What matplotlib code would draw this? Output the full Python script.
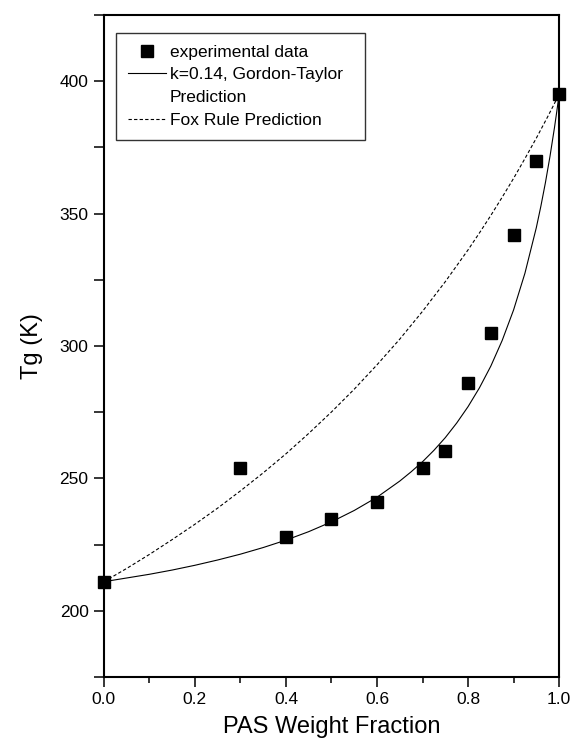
import numpy as np
import matplotlib
matplotlib.use('Agg')
import matplotlib.pyplot as plt
from matplotlib.lines import Line2D
from matplotlib.ticker import MultipleLocator, FormatStrFormatter

plt.rcParams['font.family'] = ['Liberation Sans', 'DejaVu Sans']

# measured Tg of the blends
w_exp = [0.0, 0.3, 0.4, 0.5, 0.6, 0.7, 0.75, 0.8, 0.85, 0.9, 0.95, 1.0]
tg_exp = [211, 254, 228, 234.5, 241, 254, 260.5, 286, 305, 342, 370, 395]

# Gordon-Taylor curve (k=0.14)
w_gt = [0.0, 0.05, 0.1, 0.15, 0.2, 0.25, 0.3, 0.35, 0.4, 0.45, 0.5, 0.55,
        0.6, 0.65, 0.675, 0.7, 0.725, 0.75, 0.775, 0.8, 0.825, 0.85, 0.875,
        0.9, 0.925, 0.95, 0.96, 0.97, 0.98, 0.99, 0.995, 1.0]
tg_gt = [211.0, 212.4, 213.8, 215.4, 217.2, 219.2, 221.4, 223.9, 226.7, 229.9,
         233.6, 237.9, 242.9, 249.0, 252.5, 256.3, 260.6, 265.4, 270.9, 277.1,
         284.2, 292.4, 302.1, 313.6, 327.5, 344.7, 352.8, 361.7, 371.6, 382.6,
         388.6, 395.0]

# Fox rule curve
w_fox = [0.0, 0.05, 0.1, 0.15, 0.2, 0.25, 0.3, 0.35, 0.4, 0.45, 0.5, 0.55,
         0.6, 0.65, 0.7, 0.75, 0.8, 0.825, 0.85, 0.875, 0.9, 0.925, 0.95,
         0.975, 1.0]
tg_fox = [211.0, 216.0, 221.3, 226.9, 232.7, 238.8, 245.3, 252.1, 259.3, 267.0,
          275.1, 283.7, 292.9, 302.6, 313.1, 324.3, 336.3, 342.7, 349.3, 356.2,
          363.3, 370.8, 378.5, 386.6, 395.0]

fig = plt.figure(figsize=(5.74, 7.51), dpi=100)
ax = fig.add_axes([0.181, 0.0985, 0.793, 0.8815])

ax.plot(w_gt, tg_gt, color='black', lw=0.8, zorder=3)
ax.plot(w_fox, tg_fox, color='black', lw=0.8, ls=(0, (3, 2)), zorder=3)
ax.plot(w_exp, tg_exp, ls='none', marker='s', ms=8.5, color='black',
        clip_on=False, zorder=5)

ax.set_xlim(0, 1.0)
ax.set_ylim(175, 425)
ax.xaxis.set_major_locator(MultipleLocator(0.2))
ax.xaxis.set_minor_locator(MultipleLocator(0.1))
ax.yaxis.set_major_locator(MultipleLocator(50))
ax.yaxis.set_minor_locator(MultipleLocator(25))
ax.xaxis.set_major_formatter(FormatStrFormatter('%.1f'))

for s in ax.spines.values():
    s.set_linewidth(1.5)
ax.tick_params(which='major', direction='out', length=7, width=1.1,
               labelsize=12.5, pad=4)
ax.tick_params(axis='x', which='minor', direction='out', length=4, width=1.1)
ax.tick_params(axis='y', which='minor', direction='out', length=7, width=1.1)

ax.set_xlabel('PAS Weight Fraction', fontsize=17, labelpad=6)
ax.set_ylabel('Tg (K)', fontsize=17, labelpad=12)

handles = [
    Line2D([], [], ls='none', marker='s', ms=8, color='black'),
    Line2D([], [], color='black', lw=0.8),
    Line2D([], [], color='none'),
    Line2D([], [], color='black', lw=0.8, ls=(0, (3, 2))),
]
labels = ['experimental data', 'k=0.14, Gordon-Taylor', 'Prediction',
          'Fox Rule Prediction']
leg = ax.legend(handles, labels, loc='upper left',
                bbox_to_anchor=(0.026, 0.0, 0.547, 0.973), mode='expand',
                borderaxespad=0, fontsize=12.5, frameon=True, fancybox=False,
                edgecolor='black', handlelength=2.2, handletextpad=0.25,
                labelspacing=0.43, borderpad=0.68)
leg.get_frame().set_linewidth(1.0)

fig.savefig('out.png', dpi=100)
